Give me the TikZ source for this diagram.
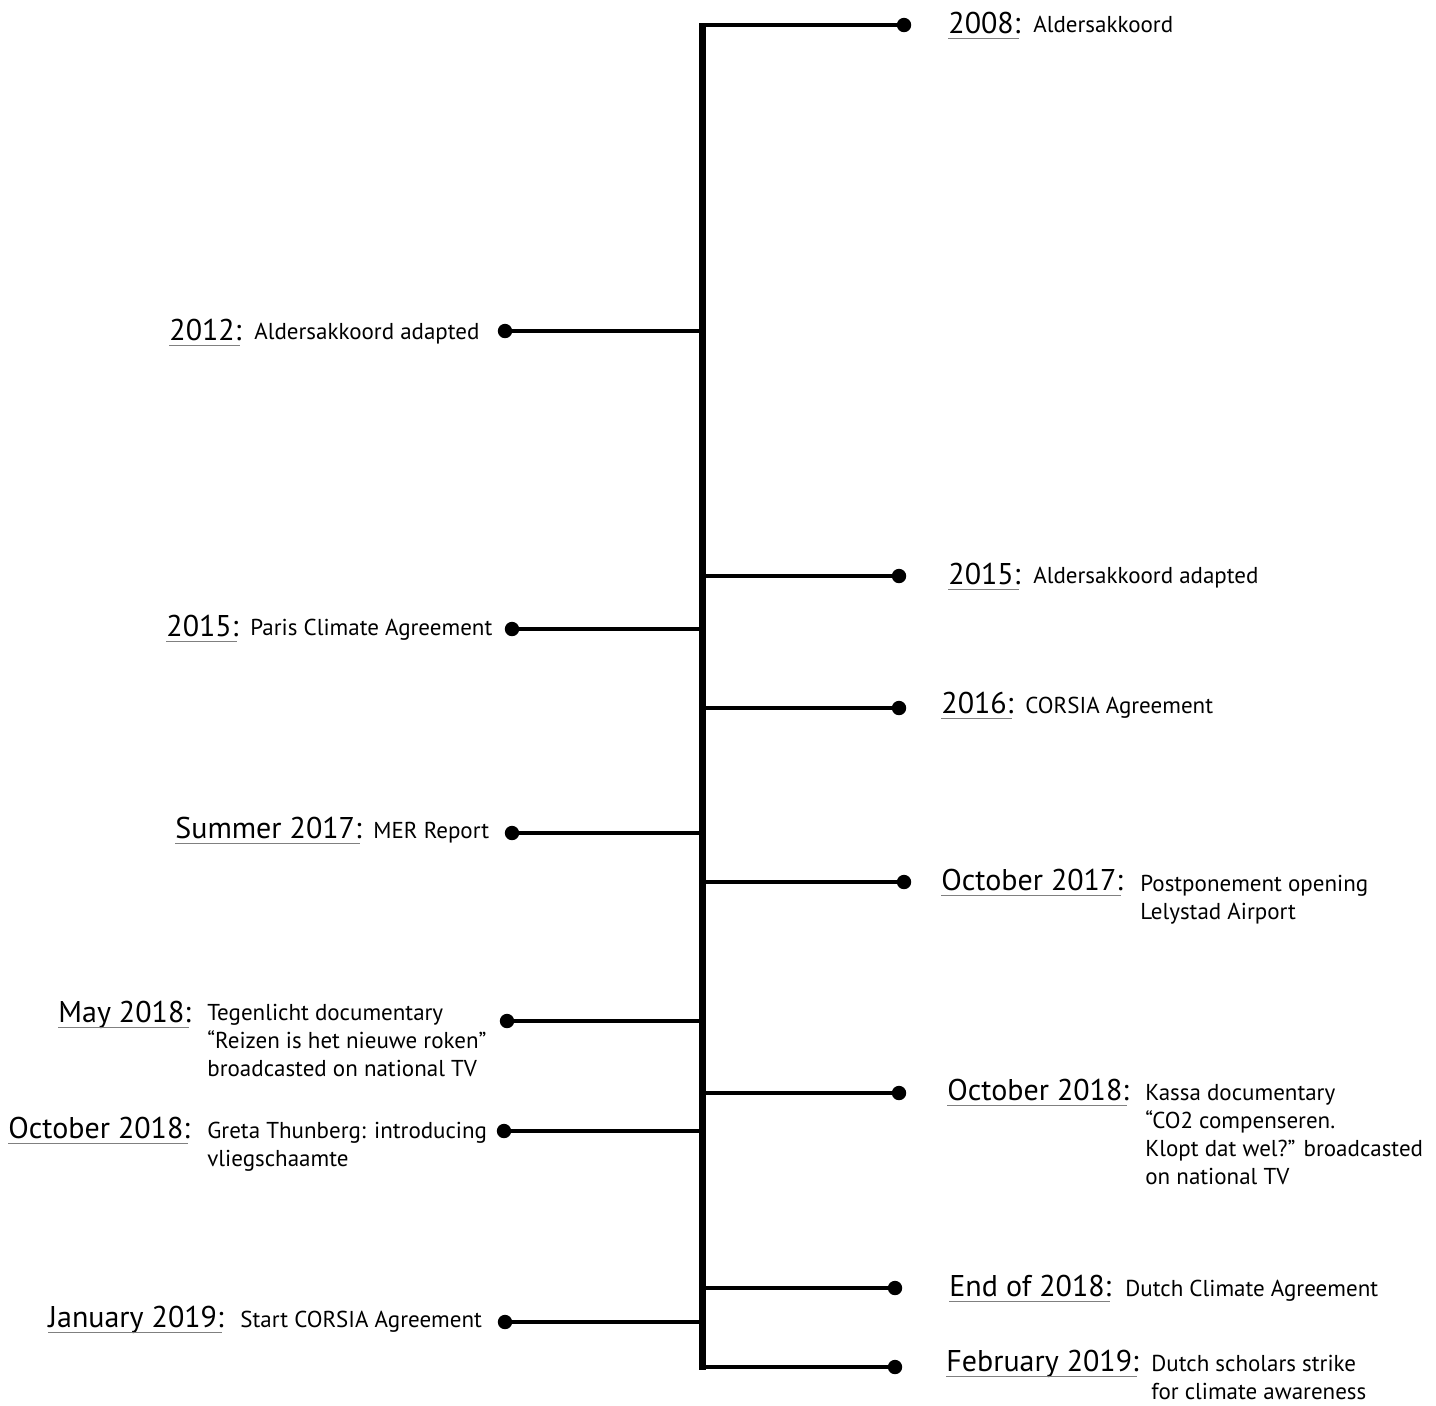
\documentclass[tikz,border=0pt]{standalone}
\usepackage{fontspec}
\setmainfont{PT Sans}
\begin{document}
\begin{tikzpicture}[x=0.5pt,y=-0.5pt,
  spine/.style={line width=3.5pt},
  branch/.style={line width=1.7pt},
  dot/.style={circle, fill=black, inner sep=0pt, minimum size=7.2pt},
  datelbl/.style={anchor=base west, inner sep=0pt, font=\fontsize{15}{18}\selectfont},
  desc/.style={anchor=base west, inner sep=0pt, font=\fontsize{11.5}{14}\selectfont},
  uline/.style={draw=gray, line width=0.6pt}]
\useasboundingbox (0,0) rectangle (1436,1405);

% spine
\coordinate (top) at (702,23);
\coordinate (bot) at (702,1370);
\draw[spine] (top) -- (bot);

% spine junctions
\foreach \n/\y in {r1/25, r2/576, r3/708, r4/882, r5/1093, r6/1288, r7/1367,
                   l1/331, l2/629, l3/833, l4/1021, l5/1131, l6/1322}
  \coordinate (s\n) at (702,\y);

% dots
\node[dot] (dr1) at (904,25) {};
\node[dot] (dr2) at (899,576) {};
\node[dot] (dr3) at (899,708) {};
\node[dot] (dr4) at (904,882) {};
\node[dot] (dr5) at (899,1093) {};
\node[dot] (dr6) at (895,1288) {};
\node[dot] (dr7) at (895,1367) {};
\node[dot] (dl1) at (505,331) {};
\node[dot] (dl2) at (512,629) {};
\node[dot] (dl3) at (512,833) {};
\node[dot] (dl4) at (507,1021) {};
\node[dot] (dl5) at (504,1131) {};
\node[dot] (dl6) at (505,1322) {};

% branches
\foreach \n in {r1,r2,r3,r4,r5,r6,r7,l1,l2,l3,l4,l5,l6}
  \draw[branch] (s\n) -- (d\n.center);

% right labels
\node[datelbl] (tr1) at (948,33) {2008:};
\node[desc] (xr1) at (1033,32) {Aldersakkoord};
\node[datelbl] (tr2) at (948,584) {2015:};
\node[desc] (xr2) at (1033,583) {Aldersakkoord adapted};
\node[datelbl] (tr3) at (941,713) {2016:};
\node[desc] (xr3) at (1025,713) {CORSIA Agreement};
\node[datelbl] (tr4) at (941,890) {October 2017:};
\node[desc] (xr4a) at (1140,891) {Postponement opening};
\node[desc] (xr4b) at (1140,919) {Lelystad Airport};
\node[datelbl] (tr5) at (947,1100) {October 2018:};
\node[desc] (xr5a) at (1145,1100) {Kassa documentary};
\node[desc] (xr5b) at (1145,1128) {“CO2 compenseren.};
\node[desc] (xr5c) at (1145,1156) {Klopt dat wel?” broadcasted};
\node[desc] (xr5d) at (1145,1184) {on national TV};
\node[datelbl] (tr6) at (949,1296) {End of 2018:};
\node[desc] (xr6) at (1125,1296) {Dutch Climate Agreement};
\node[datelbl] (tr7) at (946,1371) {February 2019:};
\node[desc] (xr7a) at (1151,1371) {Dutch scholars strike};
\node[desc] (xr7b) at (1151,1399) {for climate awareness};

% left labels
\node[datelbl] (tl1) at (169,340) {2012:};
\node[desc] (xl1) at (254,339) {Aldersakkoord adapted};
\node[datelbl] (tl2) at (166,636) {2015:};
\node[desc] (xl2) at (250,635) {Paris Climate Agreement};
\node[datelbl] (tl3) at (175,838) {Summer 2017:};
\node[desc] (xl3) at (373,838) {MER Report};
\node[datelbl] (tl4) at (58,1022) {May 2018:};
\node[desc] (xl4a) at (207,1020) {Tegenlicht documentary};
\node[desc] (xl4b) at (207,1048) {“Reizen is het nieuwe roken”};
\node[desc] (xl4c) at (207,1076) {broadcasted on national TV};
\node[datelbl] (tl5) at (8,1138) {October 2018:};
\node[desc] (xl5a) at (207,1138) {Greta Thunberg: introducing};
\node[desc] (xl5b) at (207,1166) {vliegschaamte};
\node[datelbl] (tl6) at (48,1327) {January 2019:};
\node[desc] (xl6) at (240,1327) {Start CORSIA Agreement};

% underlines
\foreach \n in {tr1,tr2,tr3,tr4,tr5,tr6,tr7,tl1,tl2,tl3,tl4,tl5,tl6}
  \draw[uline] ([yshift=-2.6pt]\n.base west) -- ([yshift=-2.6pt,xshift=-1pt]\n.base east);
\end{tikzpicture}
\end{document}
